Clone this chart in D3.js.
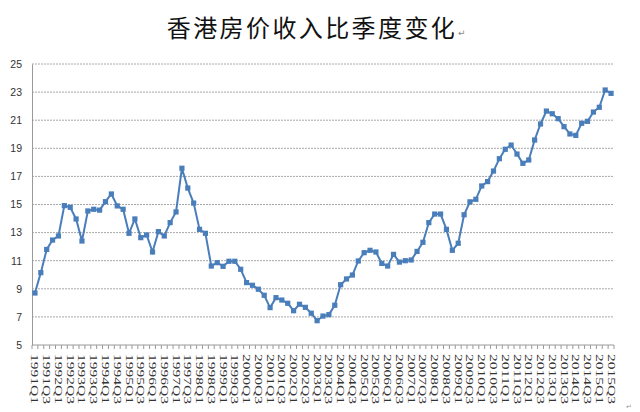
<!DOCTYPE html>
<html><head><meta charset="utf-8">
<script src="https://cdnjs.cloudflare.com/ajax/libs/d3/7.8.5/d3.min.js"></script>
<style>body{margin:0;background:#fff}svg{display:block}</style>
</head><body>
<svg id="c" width="640" height="412"></svg>
<script>
const title = "香港房价收入比季度变化";
const years = [1991,1992,1993,1994,1995,1996,1997,1998,1999,2000,2001,2002,2003,2004,2005,2006,2007,2008,2009,2010,2011,2012,2013,2014,2015];
const quarters = ["Q1","Q2","Q3","Q4"];
const lastLabel = "2015Q3";
const values = [
  8.7,10.15,11.8,12.47, 12.76,14.92,14.8,13.97, 12.4,14.54,14.66,14.6, 15.2,15.75,14.9,14.66,
  12.95,13.97,12.64,12.83, 11.62,13.07,12.76,13.71, 14.47,17.58,16.17,15.1, 13.23,12.95,10.62,10.86,
  10.6,10.96,10.96,10.39, 9.44,9.25,8.97,8.54, 7.66,8.37,8.2,7.97, 7.44,7.9,7.68,7.26,
  6.73,7.06,7.16,7.83, 9.29,9.7,9.98,10.98, 11.57,11.74,11.62,10.81, 10.62,11.45,10.9,11.0,
  11.05,11.66,12.31,13.71, 14.32,14.32,13.23,11.74, 12.24,14.27,15.19,15.37, 16.32,16.63,17.38,18.26,
  18.93,19.23,18.59,17.93, 18.17,19.59,20.73,21.65, 21.46,21.11,20.54,20.02, 19.92,20.78,20.92,21.58,
  21.92,23.15,22.91
];
const yTicks = [5,7,9,11,13,15,17,19,21,23,25];

const categories = [];
for (const yr of years) for (const q of quarters) {
  const lab = yr + q;
  if (categories.length && categories[categories.length-1] === lastLabel) break;
  categories.push(lab);
}
const data = categories.map((c,i)=>({c, v: values[i]}));

const svg = d3.select("#c");
const L = 32, R = 614, T = 64, B = 345;
const x = d3.scaleBand().domain(categories).range([L, R]).padding(0);
const y = d3.scaleLinear().domain([5,25]).range([B, T]);
const cx = d => x(d) + x.bandwidth()/2;

// title
svg.append("text").attr("x", 312).attr("y", 37).attr("text-anchor","middle")
  .attr("font-family","'Noto Sans CJK SC'").attr("font-size",24).attr("font-weight",400)
  .attr("letter-spacing",2.4).attr("fill","#111").text(title);
svg.append("text").attr("x", 458).attr("y", 36).attr("font-family","'DejaVu Sans'")
  .attr("font-size",9).attr("fill","#888").text("↵");

// grid
svg.append("g").selectAll("line").data(yTicks.filter(t=>t>5)).join("line")
  .attr("x1", L).attr("x2", R).attr("y1", d=>y(d)).attr("y2", d=>y(d))
  .attr("stroke","#a8a8a8").attr("stroke-width",1).attr("stroke-dasharray","2,1");

// y axis
const yAxis = d3.axisLeft(y).tickValues(yTicks).tickSize(0).tickPadding(10);
const gy = svg.append("g").attr("transform",`translate(${L},0)`).call(yAxis);
gy.select(".domain").attr("stroke","#9a9a9a");
gy.selectAll("text").attr("font-family","'Liberation Sans'").attr("font-size",10.5).attr("fill","#333");

// x axis
const gx = svg.append("g").attr("transform",`translate(0,${B})`);
gx.append("line").attr("x1",L).attr("x2",R).attr("stroke","#9a9a9a");
const bounds = categories.map(c=>x(c)).concat([R]);
gx.selectAll("line.tk").data(bounds).join("line").attr("class","tk")
  .attr("x1",d=>d).attr("x2",d=>d).attr("y1",0).attr("y2",4).attr("stroke","#9a9a9a");
gx.selectAll("text").data(categories.filter((c,i)=>i%2===0)).join("text")
  .attr("transform", d=>`translate(${cx(d)-3.5},9) rotate(90)`)
  .attr("font-family","'Liberation Serif'").attr("font-size",10).attr("fill","#333")
  .attr("textLength",50).attr("lengthAdjust","spacingAndGlyphs").text(d=>d);

// line
const line = d3.line().x(d=>cx(d.c)).y(d=>y(d.v));
svg.append("path").datum(data).attr("d",line).attr("fill","none")
  .attr("stroke","#4a7ebb").attr("stroke-width",2);
svg.append("g").selectAll("rect").data(data).join("rect")
  .attr("x",d=>cx(d.c)-2.6).attr("y",d=>y(d.v)-2.6).attr("width",5.2).attr("height",5.2)
  .attr("fill","#4a7ebb");

svg.append("text").attr("x",626).attr("y",409).attr("font-size",7).attr("fill","#999")
  .attr("font-family","'DejaVu Sans'").text("↵");
</script>
</body></html>
